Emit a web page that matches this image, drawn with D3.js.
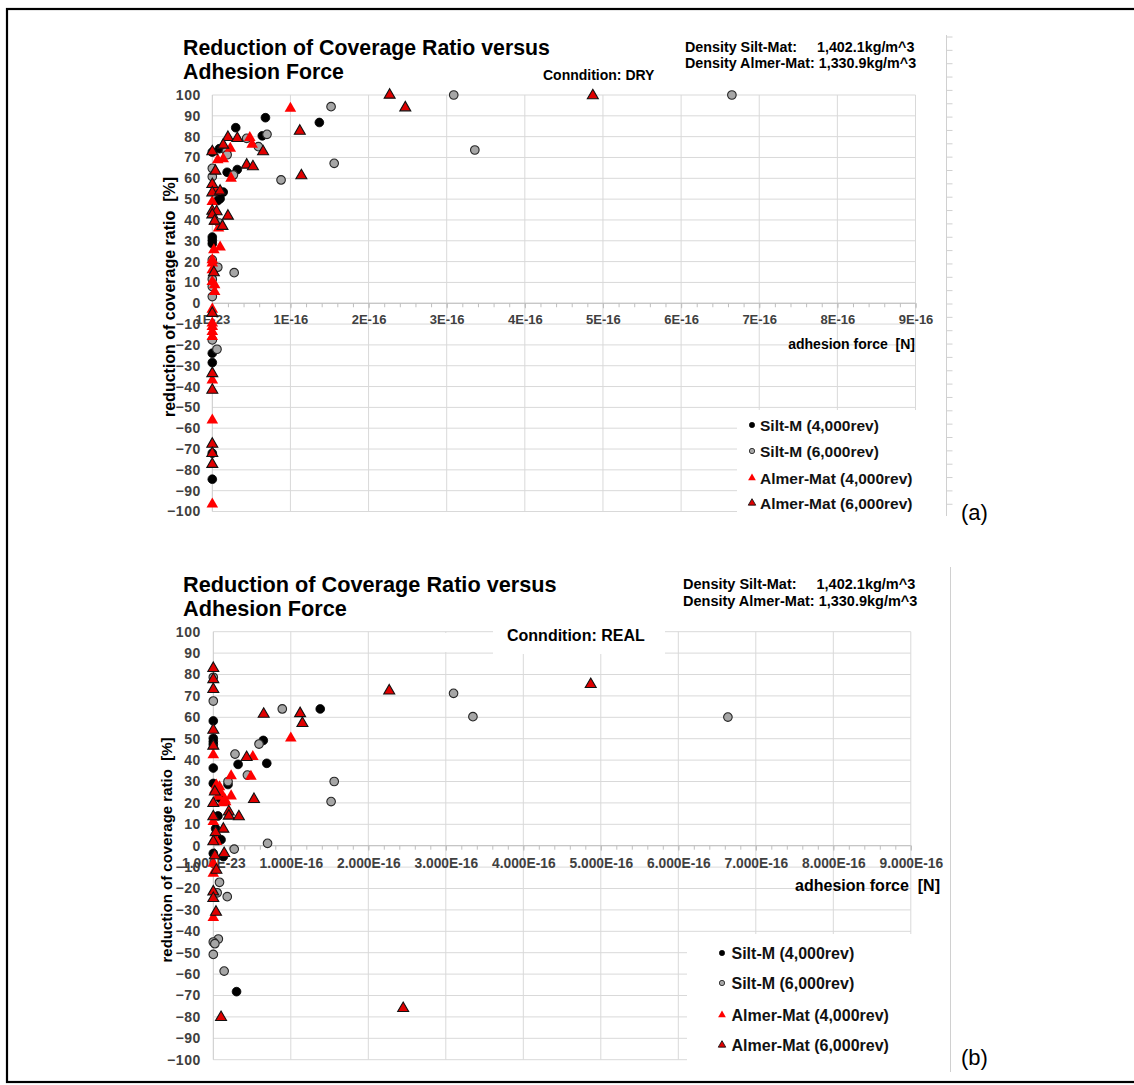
<!DOCTYPE html>
<html>
<head>
<meta charset="utf-8">
<script src="https://cdn.jsdelivr.net/npm/d3@7"></script>
<style>
  html, body { margin: 0; padding: 0; background: #fff; }
  svg { display: block; font-family: "Liberation Sans", Arial, sans-serif; }
</style>
</head>
<body>
<svg id="fig" width="1134" height="1085"></svg>
<script>
// ---- series, ticks and labels ------------------------------------------
// adhesion force values are given in units of 1E-16 N, reduction in %
const FORCE_UNIT = 1e-16;

const seriesNames = ["Silt-M (4,000rev)", "Silt-M (6,000rev)", "Almer-Mat (4,000rev)", "Almer-Mat (6,000rev)"];

const xTickValues = [1e-23, 1e-16, 2e-16, 3e-16, 4e-16, 5e-16, 6e-16, 7e-16, 8e-16, 9e-16];
const dryXTickLabels = ["1E-23", "1E-16", "2E-16", "3E-16", "4E-16", "5E-16", "6E-16", "7E-16", "8E-16", "9E-16"];
const realXTickLabels = ["1.000E-23", "1.000E-16", "2.000E-16", "3.000E-16", "4.000E-16", "5.000E-16", "6.000E-16", "7.000E-16", "8.000E-16", "9.000E-16"];
const yTickValues = [100, 90, 80, 70, 60, 50, 40, 30, 20, 10, 0, -10, -20, -30, -40, -50, -60, -70, -80, -90, -100];

const titleLines = ["Reduction of Coverage Ratio versus", "Adhesion Force"];
const densityLabels = ["Density Silt-Mat:", "1,402.1kg/m^3", "Density Almer-Mat: 1,330.9kg/m^3"];
const yAxisTitle = "reduction of coverage ratio  [%]";
const xAxisTitle = "adhesion force  [N]";

// condition DRY
const drySilt4000 = [[0.30,84.3],[0.68,89.1],[1.37,86.8],[0.64,80.4],[0.09,74.2],[0,72.6],[0.19,62.9],[0.32,64.2],
  [0.14,53.4],[0.10,50.2],[0.07,49.3],[0,31.8],[0,30.2],[0,28.6],[0,-24.0],[0,-28.5],[0,-72.0],[0,-84.5]];
const drySilt6000 = [[1.52,94.4],[0.70,81.1],[0.44,79.2],[0.59,75.2],[0.18,72.9],[0.19,71.3],[0,64.8],[0,60.8],
  [0.27,61.6],[0.88,59.2],[1.56,67.2],[0.09,38.5],[0,20.8],[0.07,17.3],[0.28,14.7],[0,11.5],[0,8.0],[0,3.2],
  [0,-17.6],[0.06,-22.1],[3.09,100],[3.36,73.6],[6.65,100]];
const dryAlmer4000 = [[1.00,93.6],[0.48,79.5],[0.51,76.3],[0.23,74.4],[0.07,68.8],[0.14,69.3],[0.24,60.0],[0.04,53.6],
  [0,48.8],[0.03,39.2],[0.08,36.0],[0.10,26.9],[0.02,25.6],[0,20.8],[0,19.2],[0,16.0],[0,10.4],[0.03,8.8],[0.03,5.6],
  [0,-2.9],[0,-9.6],[0,-11.2],[0,-13.7],[0,-16.1],[0,-36.9],[0,-56.1],[0,-96.5]];
const dryAlmer6000 = [[2.27,100],[2.47,93.9],[4.87,99.7],[1.12,82.7],[0.20,79.7],[0.32,79.2],[0.65,72.8],[0,72.8],
  [0.14,76.0],[0.04,63.5],[0.44,66.4],[0.52,65.6],[1.14,61.3],[0,57.1],[0,53.1],[0.10,53.9],[0,44.3],[0.055,44.0],
  [0,42.5],[0.20,41.9],[0.03,39.5],[0.13,37.0],[0.02,14.7],[0,-4.8],[0,-33.7],[0,-41.7],[0,-67.6],[0,-72.1],[0,-77.3]];

// condition REAL
const realSilt4000 = [[1.38,63.9],[0.645,49.2],[0.32,38.0],[0.69,38.5],[0.19,28.6],[0.09,22.1],[0,58.3],[0,50.2],
  [0,48.6],[0,47.2],[0,36.3],[0,29.1],[0.06,13.9],[0.03,8.0],[0.10,2.8],[0,-3.6],[0.13,-5.1],[0.30,-68.2]];
const realSilt6000 = [[0,78.7],[0,67.6],[0.89,63.9],[0.59,47.5],[0.28,42.8],[0.44,33.0],[0.19,30.0],[1.56,30.0],
  [1.52,20.6],[0.70,1.1],[0.27,-1.6],[3.10,71.2],[3.35,60.3],[6.64,60.1],[0.08,-17.1],[0.05,-22.0],[0.18,-23.8],
  [0.065,-43.6],[0,-45.0],[0.02,-45.8],[0,-50.8],[0.14,-58.6]];
const realAlmer4000 = [[1.00,50.2],[0.51,41.6],[0,42.4],[0.23,32.6],[0.485,32.4],[0.23,23.2],[0.04,28.3],[0.08,27.5],
  [0.02,26.0],[0.10,24.5],[0.15,21.5],[0.12,20.0],[0.16,20.5],[0.06,23.0],[0,11.2],[0.02,3.4],[0.04,1.9],
  [0,-8.3],[0,-12.9],[0,-33.6]];
const realAlmer6000 = [[2.27,72.4],[4.87,75.4],[2.45,-76.0],[0.65,61.5],[1.12,61.8],[1.15,57.2],[0.43,41.3],[0.525,21.7],
  [0.20,15.9],[0.20,13.9],[0.33,13.6],[0.13,7.8],[0,82.9],[0,77.7],[0,73.1],[0,54.0],[0,46.6],[0.02,25.2],[0,19.8],
  [0,13.6],[0.03,6.2],[0,1.9],[0.14,-3.6],[0.02,-4.6],[0.04,-11.4],[0,-21.5],[0,-24.6],[0.035,-31.0],[0.10,-80.2]];

// ---- marker styles per series -----------------------------------------
const markerStyles = [
  { shape: d3.symbolCircle,   size: 60, legendSize: 22, fill: "#000000", stroke: "#000000", sw: 0.8 },
  { shape: d3.symbolCircle,   size: 58, legendSize: 22, fill: "#a6a6a6", stroke: "#262626", sw: 1.1 },
  { shape: d3.symbolTriangle, size: 58, legendSize: 26, fill: "#ff0000", stroke: "none",    sw: 0 },
  { shape: d3.symbolTriangle, size: 52, legendSize: 24, fill: "#e00000", stroke: "#111111", sw: 1.1 }
];

const svg = d3.select("#fig");

// outer frame
svg.append("rect").attr("x", 7).attr("y", 9).attr("width", 1160).attr("height", 1073)
  .attr("fill", "none").attr("stroke", "#000").attr("stroke-width", 2.2);

function drawPanel(p) {
  const g = svg.append("g");
  const x = d3.scaleLinear().domain([1e-23, 9e-16]).range([p.left, p.right]);
  const y = d3.scaleLinear().domain([-100, 100]).range([p.bottom, p.top]);

  // gridlines
  g.append("g").selectAll("line").data(yTickValues).join("line")
    .attr("x1", p.left).attr("x2", p.right)
    .attr("y1", d => y(d)).attr("y2", d => y(d))
    .attr("stroke", "#d9d9d9").attr("stroke-width", 1);
  g.append("g").selectAll("line").data(xTickValues.slice(1)).join("line")
    .attr("x1", d => x(d)).attr("x2", d => x(d))
    .attr("y1", p.top).attr("y2", p.bottom)
    .attr("stroke", "#d9d9d9").attr("stroke-width", 1);

  // value axis line
  g.append("line").attr("x1", x(1e-23)).attr("x2", x(1e-23)).attr("y1", p.top).attr("y2", p.bottom)
    .attr("stroke", "#c8c8c8");

  // label boxes that sit over the plot
  (p.masks || []).forEach(m => g.append("rect").attr("x", m[0]).attr("y", m[1]).attr("width", m[2]).attr("height", m[3]).attr("fill", "#fff"));

  // minor ticks on the force axis
  const minor = d3.range(0, 9.0001, 0.2).map(v => v * FORCE_UNIT);
  g.append("g").attr("transform", `translate(0,${y(0)})`)
    .call(d3.axisBottom(x).tickValues(minor).tickSize(4).tickFormat(""))
    .call(a => a.select(".domain").remove())
    .selectAll("line").attr("stroke", "#bfbfbf");

  // force axis with labels
  const xa = g.append("g").attr("transform", `translate(0,${y(0)})`)
    .call(d3.axisBottom(x).tickValues(xTickValues).tickSize(5).tickPadding(p.xPad)
      .tickFormat((d, i) => p.xLabels[i]));
  xa.select(".domain").attr("stroke", "#bfbfbf").attr("d", `M${p.left},0H${p.right}`);
  xa.selectAll("line").attr("stroke", "#bfbfbf");
  xa.selectAll("text").attr("font-size", p.xLabelSize).attr("font-weight", "bold").attr("fill", "#404040")
    .attr("font-family", "'Liberation Sans', Arial, sans-serif");

  // reduction axis labels
  const ya = g.append("g").attr("transform", `translate(${p.left},0)`)
    .call(d3.axisLeft(y).tickValues(yTickValues).tickSize(0).tickPadding(p.left - 201).tickFormat(d3.format("d")));
  ya.select(".domain").remove();
  ya.selectAll("text").attr("font-size", 14).attr("font-weight", "bold").attr("fill", "#404040")
    .attr("letter-spacing", 0.6).attr("font-family", "'Liberation Sans', Arial, sans-serif");

  // markers
  p.series.forEach((data, i) => {
    const st = markerStyles[i];
    const sym = d3.symbol().type(st.shape).size(st.size);
    g.append("g").selectAll("path").data(data).join("path")
      .attr("d", sym)
      .attr("transform", d => `translate(${x(d[0] * FORCE_UNIT || 1e-23)},${y(d[1])})`)
      .attr("fill", st.fill).attr("stroke", st.stroke).attr("stroke-width", st.sw);
  });

  // titles and notes
  const t = g.append("text").attr("x", p.titleX).attr("font-size", p.titleSize).attr("font-weight", "bold").attr("fill", "#000");
  titleLines.forEach((s, i) => t.append("tspan").attr("x", p.titleX).attr("y", p.titleY[i]).text(s));

  g.append("text").attr("x", p.densX).attr("y", p.densY[0]).attr("font-size", p.densSize).attr("font-weight", "bold").text(densityLabels[0]);
  g.append("text").attr("x", p.densValX).attr("y", p.densY[0]).attr("font-size", p.densSize).attr("font-weight", "bold").text(densityLabels[1]);
  g.append("text").attr("x", p.densX).attr("y", p.densY[1]).attr("font-size", p.densSize).attr("font-weight", "bold").text(densityLabels[2]);

  g.append("text").attr("x", p.condX).attr("y", p.condY).attr("font-size", p.condSize).attr("font-weight", "bold").text(p.condition);

  g.append("text").attr("x", p.xTitleX).attr("y", p.xTitleY).attr("text-anchor", "end")
    .attr("font-size", p.xTitleSize).attr("font-weight", "bold").attr("xml:space", "preserve").text(xAxisTitle);
  g.append("text").attr("transform", `translate(${p.yTitleX},${p.yTitleY}) rotate(-90)`).attr("text-anchor", "middle")
    .attr("font-size", p.yTitleSize).attr("font-weight", "bold").attr("xml:space", "preserve").text(yAxisTitle);

  // legend
  const L = p.legend;
  g.append("rect").attr("x", L.box[0]).attr("y", L.box[1]).attr("width", L.box[2]).attr("height", L.box[3]).attr("fill", "#fff");
  seriesNames.forEach((name, i) => {
    const st = markerStyles[i];
    g.append("path").attr("d", d3.symbol().type(st.shape).size(st.legendSize))
      .attr("transform", `translate(${L.mx},${L.rows[i]})`)
      .attr("fill", st.fill).attr("stroke", st.stroke).attr("stroke-width", st.sw * 0.8);
    g.append("text").attr("x", L.tx).attr("y", L.rows[i]).attr("dy", "0.36em")
      .attr("font-size", L.size).attr("font-weight", "bold").attr("fill", "#111").text(name);
  });

  // side rule
  g.append("line").attr("x1", p.rule.x).attr("x2", p.rule.x).attr("y1", p.rule.y0).attr("y2", p.rule.y1)
    .attr("stroke", "#d0d0d0");
  if (p.rule.step) {
    g.append("g").selectAll("line").data(d3.range(p.rule.y0 + 2, p.rule.y1, p.rule.step)).join("line")
      .attr("x1", p.rule.x).attr("x2", p.rule.x + 6).attr("y1", d => d).attr("y2", d => d).attr("stroke", "#d0d0d0");
  }

  g.append("text").attr("x", p.tag.x).attr("y", p.tag.y).attr("font-size", 22).attr("fill", "#000").text(p.tag.text);
}

drawPanel({
  left: 212.3, right: 915.5, top: 95, bottom: 511.5,
  xLabels: dryXTickLabels, xLabelSize: 13, xPad: 7,
  series: [drySilt4000, drySilt6000, dryAlmer4000, dryAlmer6000],
  titleX: 183, titleY: [55, 78.5], titleSize: 21.3,
  densX: 685, densValX: 817, densY: [51.7, 68.3], densSize: 14.3,
  condition: "Conndition: DRY", condX: 543, condY: 80, condSize: 14,
  xTitleX: 915, xTitleY: 349, xTitleSize: 14,
  yTitleX: 175, yTitleY: 297, yTitleSize: 16,
  legend: { box: [737, 410, 208, 105], mx: 752, tx: 760, rows: [425, 451, 478, 503], size: 15.5 },
  rule: { x: 946.5, y0: 35, y1: 516, step: 13.35 },
  tag: { x: 961, y: 520, text: "(a)" }
});

drawPanel({
  left: 213.3, right: 910.8, top: 631.7, bottom: 1059.7,
  xLabels: realXTickLabels, xLabelSize: 13.8, xPad: 8,
  series: [realSilt4000, realSilt6000, realAlmer4000, realAlmer6000],
  titleX: 183, titleY: [592, 616], titleSize: 21.7,
  densX: 683, densValX: 816.5, densY: [589.3, 605.5], densSize: 14.5,
  condition: "Conndition: REAL", condX: 507, condY: 640.7, condSize: 16,
  masks: [[493, 620, 172, 34], [440, 633, 60, 19]],
  xTitleX: 940, xTitleY: 891, xTitleSize: 16,
  yTitleX: 172, yTitleY: 850, yTitleSize: 15,
  legend: { box: [687, 934, 253, 128], mx: 722, tx: 731.5, rows: [953, 983, 1015, 1045], size: 16 },
  rule: { x: 950.5, y0: 567, y1: 1072, step: 0 },
  tag: { x: 961, y: 1065, text: "(b)" }
});
</script>
</body>
</html>
